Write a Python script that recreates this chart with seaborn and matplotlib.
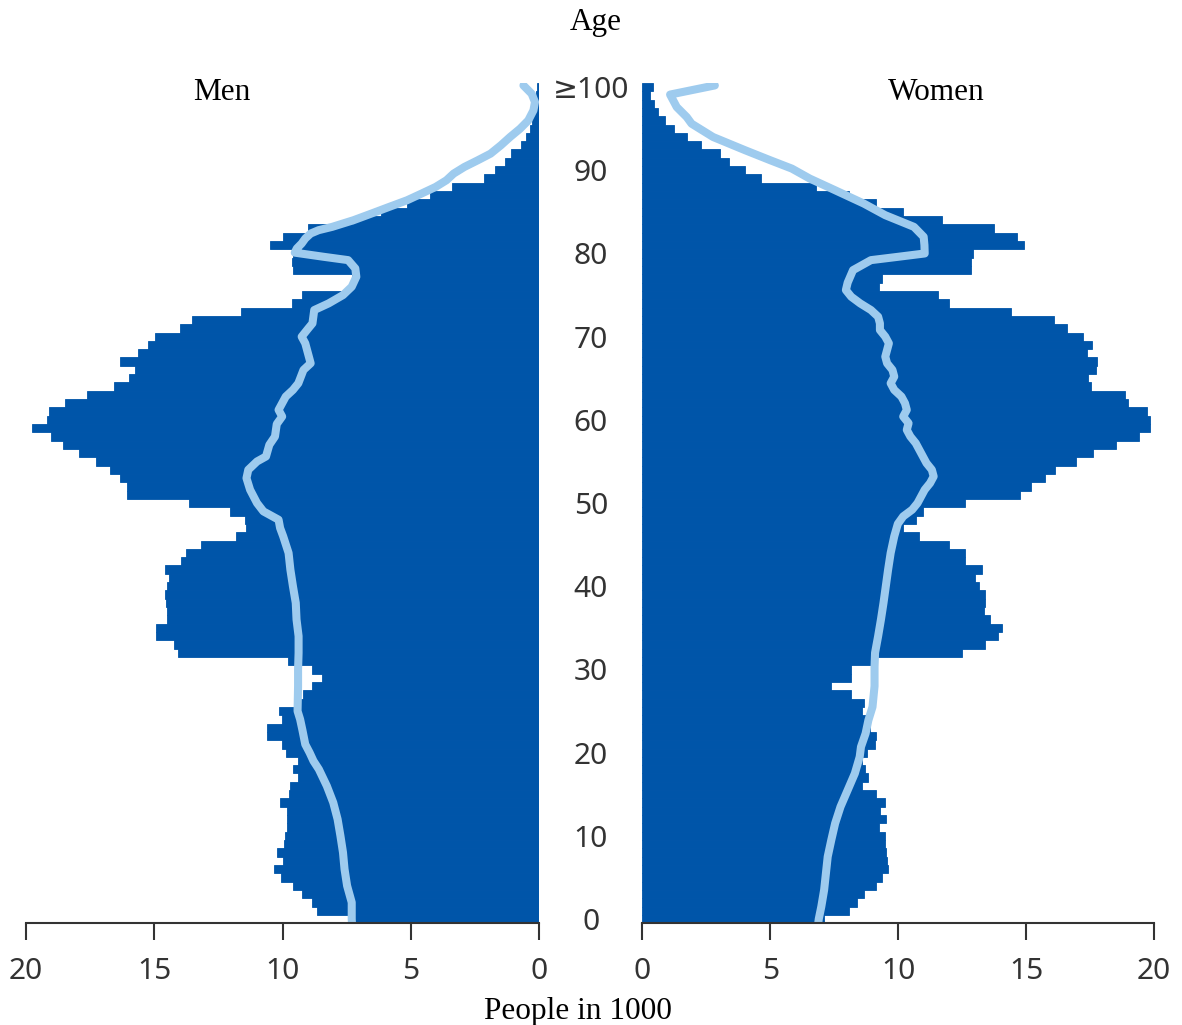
import numpy as np
import pandas as pd
import seaborn as sns
import matplotlib.pyplot as plt

# ages 0 .. 100 (the last bar is "100 and older")
ages = list(range(101))

# people in 1000
men = [7.45, 8.67, 8.87, 9.23, 9.58, 10.06, 10.34, 9.98, 10.23, 9.95,
       9.92, 9.84, 9.84, 9.84, 10.09, 9.77, 9.71, 9.39, 9.58, 9.39,
       9.88, 10.02, 10.63, 10.63, 10.02, 10.16, 9.55, 9.2, 8.87, 8.48,
       8.87, 9.8, 14.06, 14.22, 14.93, 14.93, 14.52, 14.5, 14.53, 14.59,
       14.5, 14.43, 14.57, 13.96, 13.78, 13.2, 11.83, 11.41, 11.48, 12.04,
       13.64, 16.07, 16.07, 16.35, 16.73, 17.26, 17.95, 18.54, 19.03, 19.76,
       19.17, 19.1, 18.47, 17.63, 16.59, 15.98, 15.76, 16.35, 15.62, 15.24,
       14.96, 13.99, 13.53, 11.62, 9.63, 9.26, 7.3, 7.3, 9.58, 9.64,
       9.6, 10.5, 10.0, 9.0, 7.24, 6.15, 5.15, 4.25, 3.4, 2.16,
       1.74, 1.32, 1.09, 0.7, 0.51, 0.38, 0.28, 0.21, 0.17, 0.14,
       0.1]

women = [7.1, 8.1, 8.4, 8.66, 9.15, 9.38, 9.61, 9.57, 9.52, 9.5,
         9.5, 9.24, 9.52, 9.29, 9.5, 9.15, 8.6, 8.84, 8.7, 8.59,
         8.8, 9.08, 9.15, 8.9, 8.8, 8.6, 8.65, 8.16, 7.39, 8.16,
         8.16, 9.0, 12.51, 13.38, 13.91, 14.05, 13.6, 13.35, 13.38, 13.38,
         13.18, 13.0, 13.28, 12.6, 12.6, 12.0, 10.83, 10.2, 10.69, 10.97,
         12.61, 14.75, 15.21, 15.73, 16.15, 16.95, 17.62, 18.53, 19.41, 19.86,
         19.86, 19.72, 18.99, 18.85, 17.52, 17.41, 17.73, 17.76, 17.37, 17.59,
         17.23, 16.61, 16.1, 14.4, 11.99, 11.57, 9.24, 9.36, 12.86, 12.83,
         12.93, 14.92, 14.64, 13.73, 11.7, 10.2, 9.15, 8.1, 6.8, 4.66,
         4.03, 3.4, 3.05, 2.28, 1.76, 1.26, 0.88, 0.6, 0.46, 0.32,
         0.42]

# comparison line (light blue)
men_line_age = [-0.5, 0, 2, 4, 6, 8, 10, 12, 14, 16, 18, 19, 20, 21, 22.7,
                24, 25, 28, 30, 32, 34, 36, 38, 40, 42, 44, 46, 47, 48, 49,
                50, 51.6, 53, 54, 55, 55.6, 57, 58, 59.5, 60.4, 61.2, 62, 62.8,
                63.6, 64.4, 66, 66.8, 67.6, 69.2, 70, 71, 71.6, 73.2, 74, 75,
                76, 77.2, 78.2, 79.2, 79.6, 80.1, 80.6, 81.2, 81.8, 82.4, 82.8,
                83.2, 84, 84.8, 85.6, 86.4, 87.2, 88, 88.8, 89.6, 90.4, 91.2,
                92, 93, 94, 95, 96, 97.2, 98.2, 99.2, 100.2]
men_line = [7.3, 7.31, 7.31, 7.49, 7.59, 7.65, 7.75, 7.86, 8.03, 8.28, 8.59,
            8.8, 8.95, 9.12, 9.23, 9.32, 9.42, 9.4, 9.4, 9.38, 9.38, 9.46,
            9.49, 9.6, 9.7, 9.77, 9.98, 10.1, 10.16, 10.75, 11.0, 11.27,
            11.41, 11.34, 11.0, 10.65, 10.52, 10.3, 10.23, 10.02, 10.16,
            10.02, 9.88, 9.6, 9.39, 9.19, 8.91, 8.98, 9.12, 9.26, 9.0, 8.84,
            8.77, 8.21, 7.65, 7.31, 7.13, 7.17, 7.45, 8.4, 9.53, 9.45, 9.26,
            9.12, 8.91, 8.6, 8.07, 7.24, 6.54, 5.85, 5.15, 4.59, 4.04, 3.62,
            3.34, 2.92, 2.4, 1.9, 1.5, 1.14, 0.75, 0.43, 0.23, 0.17, 0.3,
            0.62]

women_line_age = [-0.5, 0, 1.5, 3.5, 5.5, 7.5, 9.5, 11.5, 13.5, 15.5, 17.5,
                  19.5, 20.7, 22.3, 23.9, 25.5, 28, 30.3, 32, 34, 36, 38, 40,
                  42, 44, 46, 47.5, 48.4, 49.2, 50, 50.8, 51.6, 52.4, 53.2, 54,
                  54.8, 55.6, 56.4, 57.2, 58, 58.8, 59.6, 60.4, 61.2, 62, 62.8,
                  63.6, 64.4, 65.2, 66, 66.8, 67.6, 68.4, 69.2, 70, 70.8, 71.6,
                  72.4, 73.2, 74, 74.8, 75.6, 76.5, 78, 79.2, 79.6, 80, 81, 82,
                  83.2, 84.6, 86, 87.6, 89, 90.2, 91.2, 92.4, 94, 95.6, 96.4,
                  97.6, 99.1, 100.2]
women_line = [6.88, 6.9, 7.0, 7.11, 7.18, 7.25, 7.39, 7.54, 7.75, 8.03, 8.31,
              8.5, 8.55, 8.73, 8.84, 9.0, 9.08, 9.08, 9.1, 9.22, 9.33, 9.43,
              9.52, 9.61, 9.71, 9.85, 9.99, 10.2, 10.55, 10.76, 10.9, 11.04,
              11.25, 11.39, 11.32, 11.11, 10.97, 10.83, 10.69, 10.48, 10.34,
              10.41, 10.2, 10.34, 10.27, 10.13, 9.85, 9.71, 9.85, 9.78, 9.57,
              9.5, 9.57, 9.64, 9.5, 9.29, 9.29, 9.22, 8.94, 8.52, 8.17, 7.96,
              8.03, 8.24, 8.94, 10.0, 11.04, 11.03, 11.0, 10.62, 9.5, 8.66,
              7.54, 6.55, 5.85, 5.01, 4.03, 2.77, 1.93, 1.74, 1.35, 1.09, 2.84]

x_ticks = [0, 5, 10, 15, 20]
age_ticks = list(range(0, 101, 10))
age_labels = ['0', '10', '20', '30', '40', '50', '60', '70', '80', '90', '≥100']

bar_color = '#0055a9'
line_color = '#9ecbee'
text_color = '#333333'

sns.set_style('white')
plt.rcParams['font.family'] = ['Noto Sans', 'DejaVu Sans']

fig = plt.figure(figsize=(11.82, 10.25), dpi=100)
ax_m = fig.add_axes([0.022, 0.0993, 0.4343, 0.8198])
ax_w = fig.add_axes([0.5433, 0.0993, 0.4330, 0.8198])

panels = [(ax_m, men, men_line_age, men_line),
          (ax_w, women, women_line_age, women_line)]

for ax, vals, l_age, l_val in panels:
    sns.barplot(x=vals, y=ages, orient='y', native_scale=True, width=1,
                color=bar_color, saturation=1, errorbar=None,
                edgecolor=bar_color, linewidth=0.6, ax=ax)
    sns.lineplot(x=l_val, y=l_age, orient='y', estimator=None,
                 color=line_color, linewidth=5.8, solid_capstyle='round',
                 solid_joinstyle='round', ax=ax)
    ax.set_ylim(-0.5, 100.5)
    ax.set_xticks(x_ticks)
    ax.set_xticklabels([str(t) for t in x_ticks])
    ax.set_xlabel('')
    ax.set_ylabel('')
    for s in ['left', 'top', 'right']:
        ax.spines[s].set_visible(False)
    ax.spines['bottom'].set_color(text_color)
    ax.spines['bottom'].set_linewidth(1.5)
    ax.tick_params(axis='x', direction='out', length=12, width=1.5,
                   color=text_color, labelsize=21.5, labelcolor=text_color,
                   pad=12, bottom=True)

ax_m.set_xlim(20, 0)
ax_w.set_xlim(0, 20)
ax_m.set_yticks([])

# age labels sit in the gap between the two halves
ax_w.set_yticks(age_ticks)
ax_w.set_yticklabels(age_labels)
ax_w.tick_params(axis='y', length=0, pad=36.9, labelsize=21.5,
                 labelcolor=text_color, left=True)
for lab in ax_w.get_yticklabels():
    lab.set_horizontalalignment('center')

serif = ['Liberation Serif', 'DejaVu Serif']
fig.text(0.1878, 0.9102, 'Men', family=serif, fontsize=22.5, color='black',
         ha='center', va='center')
fig.text(0.7919, 0.9102, 'Women', family=serif, fontsize=22.5, color='black',
         ha='center', va='center')
fig.text(0.5042, 0.9785, 'Age', family=serif, fontsize=22.5, color='black',
         ha='center', va='center')
fig.text(0.4890, 0.0127, 'People in 1000', family=serif, fontsize=22.5,
         color='black', ha='center', va='center')

fig.savefig('out.png', dpi=100)
